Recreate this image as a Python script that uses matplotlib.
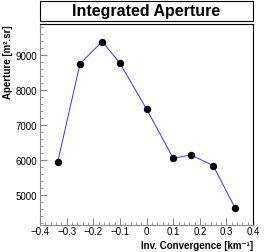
import numpy as np
import matplotlib
matplotlib.use('Agg')
import matplotlib.pyplot as plt
from matplotlib.patches import Rectangle
from matplotlib.ticker import MultipleLocator

plt.rcParams['font.family'] = ['Liberation Sans', 'DejaVu Sans']

# data
inv_conv = [-1/3, -0.25, -1/6, -0.1, 0.0, 0.1, 1/6, 0.25, 1/3]
aperture = [5960, 8755, 9390, 8770, 7460, 6055, 6150, 5845, 4620]

title = 'Integrated Aperture'
xlabel = 'Inv. Convergence [km\u207b\u00b9]'
ylabel = 'Aperture [m\u00b2.sr]'

fig = plt.figure(figsize=(2.67, 2.53), dpi=100)
ax = fig.add_axes([0.150, 0.107, 0.798, 0.794])

ax.plot(inv_conv, aperture, color='#3333ff', lw=0.7, zorder=2)
ax.plot(inv_conv, aperture, 'o', color='black', ms=4.3, zorder=3)

ax.set_xlim(-0.4, 0.4)
ax.set_ylim(4150, 9890)

ax.xaxis.set_major_locator(MultipleLocator(0.1))
ax.xaxis.set_minor_locator(MultipleLocator(0.02))
ax.yaxis.set_major_locator(MultipleLocator(1000))
ax.yaxis.set_minor_locator(MultipleLocator(200))
ax.xaxis.set_major_formatter(plt.FuncFormatter(lambda v, p: '0' if abs(v) < 1e-9 else ('%.1f' % v).replace('-', '\u2212')))
ax.tick_params(which='both', direction='in', top=False, right=False, labelsize=7, color='#888888', pad=2)
ax.tick_params(axis='x', pad=1)
ax.tick_params(which='major', length=5, width=0.8)
ax.tick_params(which='minor', length=2.5, width=0.6)
for s in ax.spines.values():
    s.set_linewidth(0.8)
    s.set_color('black')
ax.spines['left'].set_color('#888888')
ax.spines['bottom'].set_color('#888888')

fig.text(0.948, 0.008, xlabel, ha='right', va='bottom', fontsize=7, fontweight='bold')
fig.text(0.03, 0.901, ylabel, ha='center', va='top', rotation=90, fontsize=7, fontweight='bold')

# ROOT-like title box
fig.patches.append(Rectangle((0.148, 0.913), 0.800, 0.079, transform=fig.transFigure,
                             facecolor='white', edgecolor='black', lw=0.8))
fig.text(0.548, 0.953, title, ha='center', va='center', fontsize=11.5, fontweight='bold')

fig.savefig('out.png', dpi=100)
